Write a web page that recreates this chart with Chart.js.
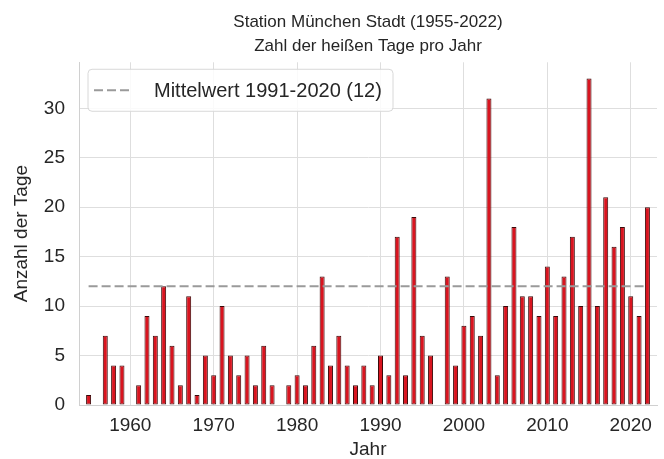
<!DOCTYPE html>
<html>
<head>
<meta charset="utf-8">
<script src="https://cdn.jsdelivr.net/npm/chart.js@4.4.0/dist/chart.umd.min.js"></script>
<style>
  html, body { margin: 0; padding: 0; background: #fff; }
  #box { width: 664px; height: 459px; }
</style>
</head>
<body>
<div id="box"><canvas id="hotChart"></canvas></div>
<script>
// Jahre und Anzahl der heißen Tage
const years = [1955, 1956, 1957, 1958, 1959, 1960, 1961, 1962, 1963, 1964,
               1965, 1966, 1967, 1968, 1969, 1970, 1971, 1972, 1973, 1974,
               1975, 1976, 1977, 1978, 1979, 1980, 1981, 1982, 1983, 1984,
               1985, 1986, 1987, 1988, 1989, 1990, 1991, 1992, 1993, 1994,
               1995, 1996, 1997, 1998, 1999, 2000, 2001, 2002, 2003, 2004,
               2005, 2006, 2007, 2008, 2009, 2010, 2011, 2012, 2013, 2014,
               2015, 2016, 2017, 2018, 2019, 2020, 2021, 2022];
const hotDays = [1, 0, 7, 4, 4, 0, 2, 9, 7, 12,
                 6, 2, 11, 1, 5, 3, 10, 5, 3, 5,
                 2, 6, 2, 0, 2, 3, 2, 6, 13, 4,
                 7, 4, 2, 4, 2, 5, 3, 17, 3, 19,
                 7, 5, 0, 13, 4, 8, 9, 7, 31, 3,
                 10, 18, 11, 11, 9, 14, 9, 13, 17, 10,
                 33, 10, 21, 16, 18, 11, 9, 20];
const meanValue = 12;  // Mittelwert 1991-2020
const decadeTicks = [1960, 1970, 1980, 1990, 2000, 2010, 2020];
const yTicks = [0, 5, 10, 15, 20, 25, 30];

const textColor = "#262626";
const fontName = "'Liberation Sans', Arial, sans-serif";

// Legende mit Rahmen oben links im Diagramm
const legendBox = {
    id: "legendBox",
    afterDatasetsDraw(chart) {
        const ctx = chart.ctx;
        const area = chart.chartArea;
        const ds = chart.data.datasets[1];
        const x = area.left + 9, y = area.top + 7, w = 305, h = 42;
        ctx.save();
        ctx.beginPath();
        ctx.roundRect(x, y, w, h, 4);
        ctx.fillStyle = "rgba(255,255,255,0.85)";
        ctx.fill();
        ctx.strokeStyle = "#d8d8d8";
        ctx.lineWidth = 1;
        ctx.stroke();
        ctx.beginPath();
        ctx.setLineDash(ds.borderDash);
        ctx.strokeStyle = ds.borderColor;
        ctx.lineWidth = ds.borderWidth;
        ctx.moveTo(x + 6, y + h / 2);
        ctx.lineTo(x + 45, y + h / 2);
        ctx.stroke();
        ctx.setLineDash([]);
        ctx.fillStyle = textColor;
        ctx.font = "20px " + fontName;
        ctx.textBaseline = "middle";
        ctx.fillText(ds.label, x + 66, y + h / 2 + 1);
        ctx.restore();
    }
};

const ctx = document.getElementById("hotChart").getContext("2d");

new Chart(ctx, {
    type: "bar",
    data: {
        datasets: [{
            label: "Heiße Tage",
            data: years.map((yr, i) => ({ x: yr, y: hotDays[i] })),
            backgroundColor: "#d9141f",
            borderColor: "#3a0a0a",
            borderWidth: c => (c.raw && c.raw.y > 0 ? 1 : 0),
            borderSkipped: false,
            barPercentage: 0.6,
            categoryPercentage: 1.0,
            order: 2
        }, {
            type: "line",
            label: "Mittelwert 1991-2020 (" + meanValue + ")",
            data: [{ x: years[0], y: meanValue }, { x: years[years.length - 1], y: meanValue }],
            borderColor: "#9a9a9a",
            borderWidth: 2,
            borderDash: [9, 4],
            pointRadius: 0,
            fill: false,
            order: 1
        }]
    },
    options: {
        responsive: true,
        maintainAspectRatio: false,
        animation: false,
        layout: { padding: { left: 8, right: 7, top: 0, bottom: 0 } },
        plugins: {
            legend: { display: false },
            tooltip: { enabled: false },
            title: {
                display: true,
                fullSize: false,
                text: ["Station München Stadt (1955-2022)", "Zahl der heißen Tage pro Jahr"],
                color: textColor,
                font: { family: fontName, size: 17, weight: "normal", lineHeight: 1.42 },
                padding: { top: 10, bottom: 4 }
            }
        },
        scales: {
            x: {
                type: "linear",
                offset: false,
                min: 1953.85,
                max: 2023.15,
                afterBuildTicks: axis => { axis.ticks = decadeTicks.map(v => ({ value: v })); },
                afterFit: axis => { axis.height = 54; },
                ticks: {
                    color: textColor,
                    font: { family: fontName, size: 19 },
                    padding: 9,
                    maxRotation: 0,
                    autoSkip: false,
                    callback: v => String(v)
                },
                grid: { offset: false, color: "#dedede", lineWidth: 1, drawTicks: false },
                border: { color: "#d0d0d0" },
                title: {
                    display: true,
                    text: "Jahr",
                    color: textColor,
                    font: { family: fontName, size: 19, lineHeight: 1 },
                    padding: { top: 0, bottom: 0 }
                }
            },
            y: {
                min: 0,
                max: 34.65,
                afterBuildTicks: axis => { axis.ticks = yTicks.map(v => ({ value: v })); },
                afterFit: axis => { axis.width = 71; },
                ticks: {
                    color: textColor,
                    font: { family: fontName, size: 19 },
                    padding: 14
                },
                grid: { color: "#dedede", lineWidth: 1, drawTicks: false },
                border: { color: "#d0d0d0" },
                title: {
                    display: true,
                    text: "Anzahl der Tage",
                    color: textColor,
                    font: { family: fontName, size: 19, lineHeight: 1 },
                    padding: { top: 4, bottom: 0 }
                }
            }
        }
    },
    plugins: [legendBox]
});
</script>
</body>
</html>
